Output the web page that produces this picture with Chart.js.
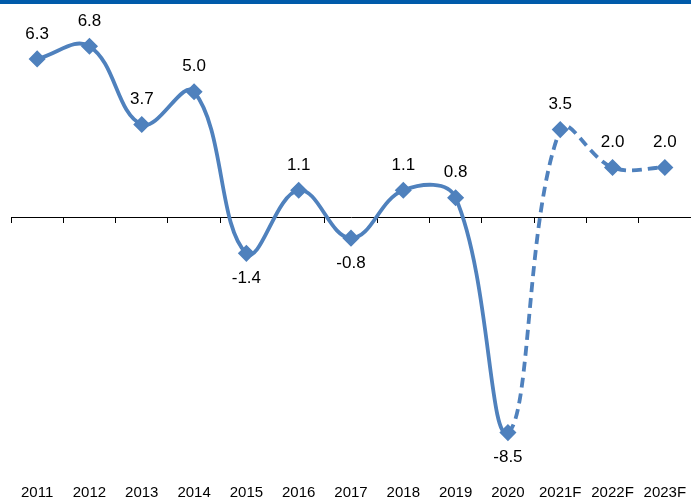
<!DOCTYPE html>
<html>
<head>
<meta charset="utf-8">
<script src="https://cdn.jsdelivr.net/npm/chart.js@4.4.1/dist/chart.umd.min.js"></script>
<style>
  html, body { margin: 0; padding: 0; background: #fff; }
  #wrap { width: 691px; height: 500px; position: relative; }
</style>
</head>
<body>
<div id="wrap"><canvas id="growth"></canvas></div>
<script>
var years = ['2011', '2012', '2013', '2014', '2015', '2016', '2017', '2018', '2019', '2020', '2021F', '2022F', '2023F'];
var growth = [6.3, 6.8, 3.7, 5.0, -1.4, 1.1, -0.8, 1.1, 0.8, -8.5, 3.5, 2.0, 2.0];
var firstForecast = 9; // dashed from 2020 onwards

var lineBlue = '#4F81BD';
var font = "'Liberation Sans Narrow', 'Arial Narrow', 'Liberation Sans', Arial, sans-serif";

// blue band along the top edge
var topBand = {
    id: 'topBand',
    beforeDraw: function (chart) {
        var c = chart.ctx;
        c.save();
        c.fillStyle = '#005BAA';
        c.fillRect(0, 0, chart.width, 4);
        c.restore();
    }
};

// value labels over / under each point
var valueLabels = {
    id: 'valueLabels',
    afterDatasetsDraw: function (chart) {
        var c = chart.ctx;
        var pts = chart.getDatasetMeta(0).data;
        c.save();
        c.font = '17px ' + font;
        c.fillStyle = '#000';
        c.textAlign = 'center';
        c.textBaseline = 'middle';
        pts.forEach(function (p, i) {
            var v = growth[i];
            var dy = v >= 0 ? -25 : 25;
            c.fillText(v.toFixed(1), p.x, p.y + dy);
        });
        c.restore();
    }
};

function noSidePadding(s) {
    s.paddingLeft = 0;
    s.paddingRight = 0;
}

var ctx = document.getElementById('growth').getContext('2d');
var chart = new Chart(ctx, {
    type: 'line',
    data: {
        labels: years,
        datasets: [{
            data: growth,
            borderColor: lineBlue,
            backgroundColor: lineBlue,
            borderWidth: 3.8,
            tension: 0.4,
            pointStyle: 'rectRot',
            pointRadius: 7.5,
            pointBorderWidth: 1.5,
            pointBackgroundColor: lineBlue,
            pointBorderColor: lineBlue,
            clip: false,
            segment: {
                borderDash: function (s) { return s.p0DataIndex >= firstForecast ? [10, 6] : undefined; }
            }
        }]
    },
    options: {
        responsive: true,
        maintainAspectRatio: false,
        animation: false,
        layout: { autoPadding: false, padding: { top: 16, left: 11, right: 0, bottom: 0 } },
        plugins: {
            legend: { display: false },
            tooltip: { enabled: false }
        },
        scales: {
            y: {
                display: false,
                min: -10.26,
                max: 8
            },
            x: {
                offset: true,
                grid: { display: false, drawTicks: false },
                border: { display: false },
                ticks: {
                    padding: 8,
                    color: '#000',
                    maxRotation: 0,
                    autoSkip: false,
                    font: { family: font, size: 15, lineHeight: 1 }
                },
                afterFit: function (s) {
                    noSidePadding(s);
                    s.height = 23;
                }
            },
            x0: {
                type: 'category',
                labels: years,
                position: { y: 0 },
                offset: true,
                grid: {
                    offset: true,
                    drawOnChartArea: false,
                    drawTicks: true,
                    tickLength: 5,
                    color: '#000',
                    lineWidth: 1
                },
                border: { display: true, color: '#000', width: 1 },
                ticks: { display: false },
                afterFit: noSidePadding
            }
        }
    },
    plugins: [topBand, valueLabels]
});
</script>
</body>
</html>
